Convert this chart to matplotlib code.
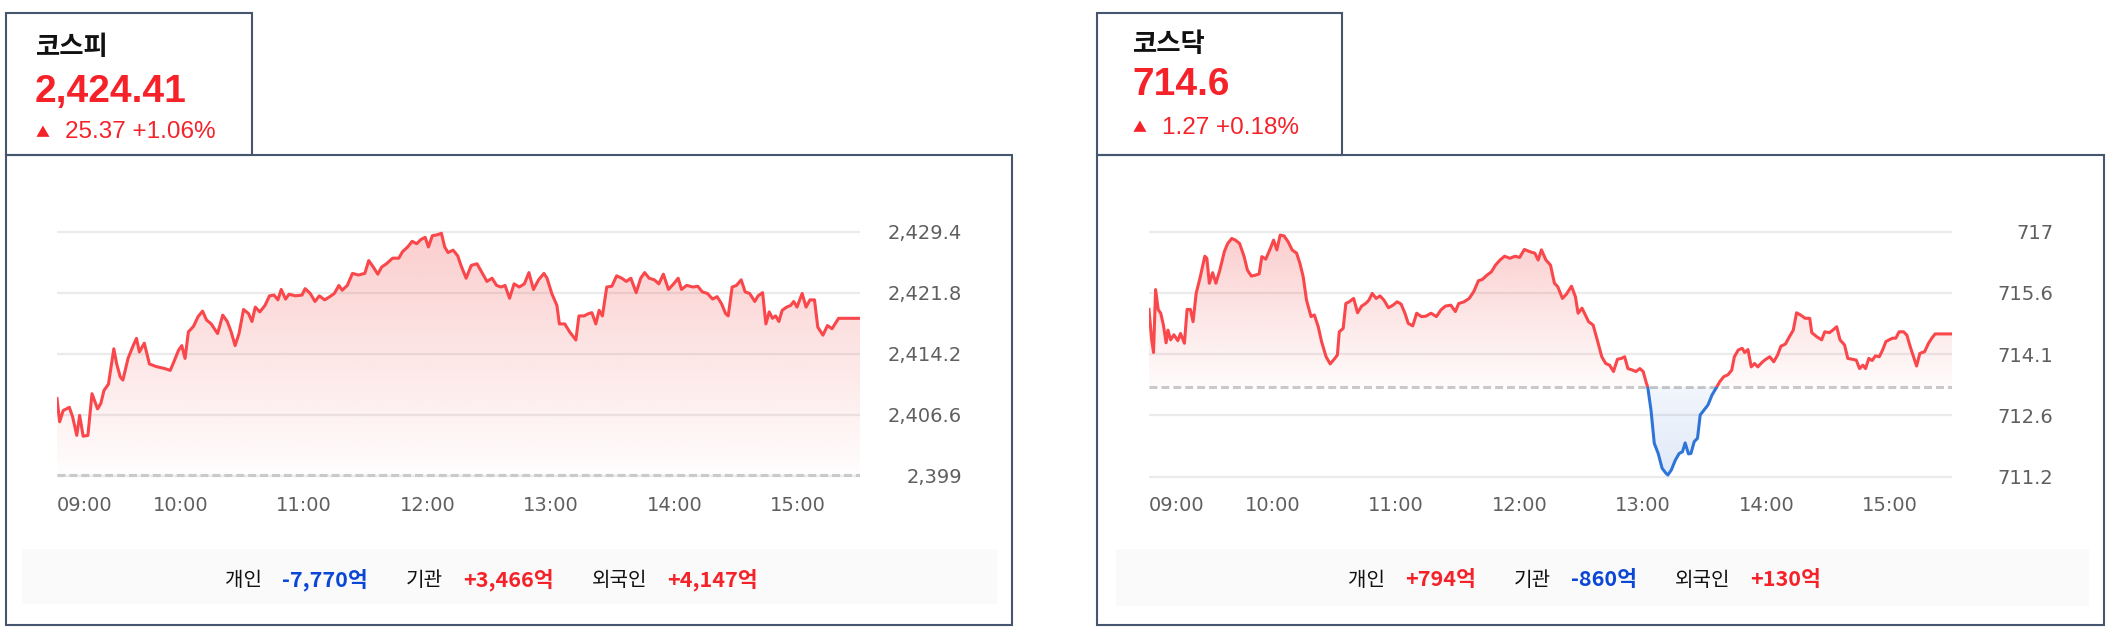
import numpy as np
import matplotlib
matplotlib.use("Agg")
import matplotlib.pyplot as plt
from matplotlib.colors import to_rgb
from matplotlib.patches import Rectangle

W, H = 2119, 638
KR = ["Noto Sans CJK KR", "DejaVu Sans"]
NUM = ["Liberation Sans", "Noto Sans CJK KR"]
RED = "#f5222a"
BLUE = "#0b46d6"
LINE_RED = "#f9474b"
LINE_BLUE = "#2f74d9"
BORDER = "#46566e"

# minutes after 09:00 and index level
kospi_t = [0, 1.3, 3, 6, 7.6, 9.6, 11, 12.7, 15, 17, 19.7, 21.3, 22.8, 25, 27.6, 29, 30.7, 32,
           34.5, 37, 38.6, 40, 42.4, 44.9, 48, 52.8, 55, 56.8, 59, 60.6, 62.2, 63.8, 66.3, 68.5,
           70.7, 72.6, 74.9, 78, 80.5, 82.7, 84.6, 86.5, 88.4, 90.6, 93, 94.7, 96.3, 98.5, 101,
           103.2, 105.4, 107.3, 108.9, 111, 112.7, 115.8, 119, 120.5, 123, 125.3, 127.4, 130,
           132.5, 134.7, 136.9, 138.5, 141, 143.5, 146.4, 149.5, 151.4, 153.6, 155.8, 157.7, 160,
           163, 166, 167.8, 170.3, 172.5, 174.7, 176.6, 178.8, 180.4, 182.3, 184.5, 186.7, 188.3,
           189.9, 192.4, 194.6, 196.2, 198.7, 201.2, 204, 206.2, 208.8, 211.3, 213.5, 215.7,
           217.6, 219.8, 222, 224.5, 227, 229.2, 231.4, 233.9, 236.5, 238, 240.3, 242.8, 244,
           246.6, 249, 252, 253.5, 256, 258.3, 259.8, 261.7, 263.3, 264.9, 267, 269.5, 271.8,
           274.3, 276.5, 278.7, 281.3, 283.5, 285.4, 287.6, 290.1, 292.3, 294.5, 297, 299.5,
           301.7, 303.3, 305.8, 309, 311.2, 313.4, 315.9, 318.4, 320.6, 322.8, 324.7, 326, 327.9,
           330, 332.3, 334.2, 336.4, 338.9, 340.5, 342.7, 344.3, 345.9, 347.5, 349, 350.6, 352.2,
           354.4, 356.3, 357.8, 359.4, 361.9, 363.8, 365.7, 367.9, 369.5, 372, 374.2, 376.4,
           379.6, 390]
kospi_v = [2408.6, 2405.7, 2407.1, 2407.5, 2406.3, 2404.0, 2406.5, 2403.9, 2404.0, 2409.2,
           2407.3, 2408.0, 2409.6, 2410.4, 2414.8, 2412.9, 2411.3, 2410.9, 2413.6, 2415.2,
           2416.1, 2414.4, 2415.5, 2412.9, 2412.6, 2412.3, 2412.1, 2413.2, 2414.6, 2415.2,
           2413.6, 2416.9, 2417.6, 2418.8, 2419.5, 2418.4, 2417.9, 2416.7, 2419.0, 2418.2,
           2416.9, 2415.2, 2416.7, 2419.7, 2419.2, 2418.2, 2420.0, 2419.4, 2420.2, 2421.4,
           2421.5, 2420.9, 2422.2, 2421.0, 2421.6, 2421.4, 2421.5, 2422.3, 2421.7, 2420.7,
           2421.4, 2420.9, 2421.3, 2421.7, 2422.7, 2422.1, 2422.7, 2424.2, 2424.0, 2424.2,
           2425.8, 2425.0, 2424.1, 2425.0, 2425.4, 2426.1, 2426.1, 2426.9, 2427.5, 2428.2,
           2427.9, 2428.4, 2428.7, 2427.5, 2428.9, 2429.0, 2429.2, 2427.5, 2426.8, 2427.1,
           2426.4, 2425.2, 2423.6, 2425.2, 2425.4, 2424.4, 2423.2, 2423.6, 2422.7, 2422.5,
           2422.7, 2421.1, 2422.9, 2422.5, 2422.9, 2424.3, 2422.2, 2423.4, 2424.2, 2423.6,
           2421.7, 2420.2, 2417.9, 2417.9, 2416.9, 2415.9, 2418.9, 2418.9, 2419.2, 2419.3,
           2417.9, 2419.6, 2418.9, 2422.5, 2422.6, 2423.9, 2423.6, 2423.2, 2423.6, 2421.8,
           2423.6, 2424.3, 2423.6, 2423.4, 2422.9, 2424.1, 2422.2, 2422.9, 2423.6, 2422.2,
           2422.7, 2422.5, 2422.6, 2421.9, 2421.7, 2421.0, 2421.3, 2420.4, 2419.2, 2418.9,
           2422.5, 2422.7, 2423.4, 2421.9, 2421.7, 2420.7, 2421.4, 2421.8, 2417.9, 2419.4,
           2418.6, 2418.9, 2418.2, 2419.6, 2420.0, 2420.2, 2420.7, 2420.0, 2421.7, 2420.0,
           2420.9, 2420.9, 2417.5, 2416.5, 2417.7, 2417.3, 2418.6, 2418.6]

kosdaq_t = [0, 1.3, 2.2, 3.2, 4.5, 5.7, 7, 8.3, 9.2, 10.5, 12.1, 14, 15.3, 17.2, 18.5, 20.1,
            21.4, 22.9, 24.9, 27.1, 28.1, 29.3, 30.9, 32.5, 34.4, 36.6, 38.2, 40.2, 42, 44,
            46.2, 47.8, 49.7, 51.6, 53.5, 54.8, 56.7, 59, 60.5, 62.1, 63.7, 65.6, 67.6, 69.5,
            71.7, 73.3, 74.9, 76.5, 78.7, 80.3, 82.2, 83.8, 86, 88, 89.9, 91.5, 92.4, 94.3,
            95.6, 97.2, 99.4, 101.3, 103.3, 105.2, 106.8, 108.4, 110.3, 112.2, 114.1, 116.3,
            118.5, 120.5, 122.4, 124.3, 125.9, 128.1, 130, 132.3, 134.5, 137, 139.6, 141.8, 144,
            146.6, 148.8, 150.4, 153, 155.5, 157.7, 160, 161.9, 164.1, 166.3, 168.3, 170.5,
            172.7, 175.3, 177.8, 180, 182.3, 184.8, 187.4, 189, 190.6, 192.8, 195, 196.9, 198.5,
            200.8, 202.7, 205.2, 207.1, 208.4, 210.3, 212.2, 213.5, 215.7, 217.7, 219.9, 221.8,
            223.7, 225.6, 227.5, 229.4, 231, 232.6, 234.5, 236.5, 238.4, 240, 241.6, 242.2,
            243.8, 245.4, 247.3, 249.2, 251.1, 252, 253.7, 255.6, 257.5, 259.1, 260.4, 262,
            263.2, 264.8, 266.4, 267.7, 269.6, 271.5, 273.4, 275.7, 277.2, 279.2, 281.1, 283,
            284.3, 286.2, 288.1, 289.3, 290.9, 292.5, 294.1, 295.7, 298, 299.6, 301.5, 303.4,
            305.3, 306.9, 309.1, 311, 312.9, 314.5, 316.4, 318.7, 320.9, 321.9, 324.4, 326.7,
            328.2, 330.5, 332.1, 334, 335.6, 337.8, 339.4, 341.6, 343.5, 345.1, 346.7, 348,
            349.6, 351.2, 352.8, 354.7, 356.3, 357.9, 359.5, 361.1, 362.7, 364.3, 366.5, 368.1,
            369.7, 371.3, 372.8, 374.4, 376.7, 378.6, 380.2, 381.8, 390]
kosdaq_v = [715.16, 714.44, 714.14, 715.63, 715.15, 715.07, 714.79, 714.37, 714.67, 714.44,
            714.56, 714.42, 714.59, 714.36, 715.16, 715.16, 714.87, 715.54, 715.93, 716.42,
            716.37, 715.78, 716.03, 715.78, 716.09, 716.53, 716.72, 716.84, 716.80, 716.72,
            716.41, 716.09, 715.95, 715.97, 716.00, 716.41, 716.35, 716.61, 716.80, 716.57,
            716.92, 716.90, 716.76, 716.57, 716.49, 716.25, 715.93, 715.38, 714.99, 715.03,
            714.75, 714.40, 714.04, 713.87, 713.98, 714.08, 714.63, 714.71, 715.30, 715.34,
            715.42, 715.08, 715.24, 715.30, 715.38, 715.54, 715.42, 715.48, 715.38, 715.20,
            715.26, 715.34, 715.29, 715.07, 714.83, 714.77, 715.07, 714.99, 715.00, 715.07,
            714.99, 715.15, 715.24, 715.26, 715.11, 715.30, 715.34, 715.42, 715.58, 715.84,
            715.87, 715.97, 716.05, 716.21, 716.33, 716.42, 716.37, 716.42, 716.39, 716.58,
            716.53, 716.49, 716.33, 716.57, 716.33, 716.21, 715.78, 715.70, 715.42, 715.52,
            715.71, 715.46, 715.07, 715.19, 715.00, 714.87, 714.79, 714.44, 714.04, 713.88,
            713.84, 713.69, 713.98, 714.00, 714.04, 713.76, 713.73, 713.69, 713.76, 713.69,
            713.41, 713.33, 712.78, 711.99, 711.75, 711.40, 711.28, 711.24, 711.36, 711.59,
            711.75, 711.79, 712.00, 711.74, 711.75, 712.03, 712.11, 712.66, 712.78, 712.90,
            713.13, 713.32, 713.45, 713.57, 713.61, 713.72, 714.04, 714.20, 714.24, 714.14,
            714.21, 713.80, 713.88, 713.80, 713.92, 713.98, 714.04, 713.92, 714.08, 714.29,
            714.34, 714.51, 714.67, 715.08, 715.03, 714.95, 714.95, 714.61, 714.51, 714.44,
            714.63, 714.61, 714.67, 714.75, 714.44, 714.32, 714.00, 713.98, 713.96, 713.76,
            713.84, 713.76, 714.00, 713.95, 714.06, 714.04, 714.20, 714.40, 714.44, 714.48,
            714.48, 714.63, 714.63, 714.55, 714.28, 714.04, 713.82, 714.12, 714.16, 714.36,
            714.48, 714.58, 714.58]

kospi_ticks = [2399, 2406.6, 2414.2, 2421.8, 2429.4]
kospi_tick_labels = ["2,399", "2,406.6", "2,414.2", "2,421.8", "2,429.4"]
kosdaq_ticks = [711.2, 712.65, 714.1, 715.55, 717]
kosdaq_tick_labels = ["711.2", "712.6", "714.1", "715.6", "717"]
time_ticks = [0, 60, 120, 180, 240, 300, 360]
time_labels = ["09:00", "10:00", "11:00", "12:00", "13:00", "14:00", "15:00"]

kospi_prev = 2399.04
kosdaq_prev = 713.33

names = ["코스피", "코스닥"]
prices = ["2,424.41", "714.6"]
changes = ["25.37 +1.06%", "1.27 +0.18%"]
investors = ["개인", "기관", "외국인"]
kospi_flows = ["-7,770억", "+3,466억", "+4,147억"]
kosdaq_flows = ["+794억", "-860억", "+130억"]


fig = plt.figure(figsize=(W / 100, H / 100), dpi=100)
bg = fig.add_axes([0, 0, 1, 1])
bg.set_xlim(0, W)
bg.set_ylim(H, 0)
bg.axis("off")


def chart_axes(x0, x1, y_top, y_bot, vmin, vmax, pad_frac=0.05):
    pad = (vmax - vmin) * pad_frac
    scale = (y_bot - y_top) / (vmax - vmin)
    top = y_top - pad * scale
    bot = y_bot + pad * scale
    ax = fig.add_axes([x0 / W, 1 - bot / H, (x1 - x0) / W, (bot - top) / H])
    ax.set_facecolor("none")
    for s in ax.spines.values():
        s.set_visible(False)
    return ax, bot, pad


def gradient_fill(ax, t, lo, hi, color, a_top, a_bot, v_top, v_bot):
    poly = ax.fill_between(t, lo, hi, facecolor="none", edgecolor="none")
    path = poly.get_paths()[0]
    rgba = np.zeros((256, 1, 4))
    rgba[..., :3] = to_rgb(color)
    rgba[..., 3] = np.linspace(a_top, a_bot, 256)[:, None]
    im = ax.imshow(rgba, extent=[0, 390, v_bot, v_top], origin="upper",
                   aspect="auto", zorder=1, interpolation="bilinear")
    im.set_clip_path(path, transform=ax.transData)


def decorate(ax, bot_px, x1, label_right, ticks, tick_labels, prev, pad):
    for v in ticks:
        ax.axhline(v, color="#ebebeb", lw=1.6, zorder=0)
    ax.axhline(prev, color="#cacaca", lw=2.2, ls=(0, (2.6, 1.3)), zorder=0.5)
    ax.set_yticks(ticks, tick_labels)
    ax.yaxis.tick_right()
    ax.tick_params(axis="y", length=0, pad=(label_right - x1) * 0.72,
                   labelsize=14, labelcolor="#5f5f5f")
    for lbl in ax.get_yticklabels():
        lbl.set_ha("right")
    ax.set_xticks(time_ticks, time_labels)
    ax.tick_params(axis="x", length=0, pad=(496 - bot_px) * 0.72,
                   labelsize=14, labelcolor="#5f5f5f")
    ax.get_xticklabels()[0].set_ha("left")
    ax.set_xlim(0, 390)
    ax.set_ylim(ticks[0] - pad, ticks[-1] + pad)


# KOSPI chart
ax1, b1, p1 = chart_axes(57, 860, 231.7, 475.5, kospi_ticks[0], kospi_ticks[-1])
t1 = np.array(kospi_t)
v1 = np.array(kospi_v)
gradient_fill(ax1, t1, v1, kospi_prev, "#f04646", 0.27, 0.01, kospi_ticks[-1], kospi_prev)
ax1.plot(t1, v1, color=LINE_RED, lw=2.2, zorder=3, solid_joinstyle="round")
decorate(ax1, b1, 860, 962, kospi_ticks, kospi_tick_labels, kospi_prev, p1)

# KOSDAQ chart
ax2, b2, p2 = chart_axes(1149, 1952, 231.7, 476.7, kosdaq_ticks[0], kosdaq_ticks[-1])
t2 = np.array(kosdaq_t)
v2 = np.array(kosdaq_v)
gradient_fill(ax2, t2, np.maximum(v2, kosdaq_prev), kosdaq_prev, "#f04646", 0.27, 0.02,
              kosdaq_ticks[-1], kosdaq_prev)
gradient_fill(ax2, t2, np.minimum(v2, kosdaq_prev), kosdaq_prev, "#3a78d8", 0.07, 0.16,
              kosdaq_prev, kosdaq_ticks[0])
up = ax2.plot(t2, v2, color=LINE_RED, lw=2.2, zorder=3, solid_joinstyle="round")[0]
up.set_clip_path(Rectangle((0, kosdaq_prev), 390, 20, transform=ax2.transData))
dn = ax2.plot(t2, v2, color=LINE_BLUE, lw=2.2, zorder=3, solid_joinstyle="round")[0]
dn.set_clip_path(Rectangle((0, kosdaq_prev - 20), 390, 20, transform=ax2.transData))
decorate(ax2, b2, 1952, 2053, kosdaq_ticks, kosdaq_tick_labels, kosdaq_prev, p2)

# panel frames
for hx0, hx1, mx1 in [(6, 252, 1012), (1097, 1342, 2104)]:
    bg.add_patch(Rectangle((hx0, 13), hx1 - hx0, 142, fill=False, ec=BORDER, lw=1.5))
    bg.add_patch(Rectangle((hx0, 155), mx1 - hx0, 470, fill=False, ec=BORDER, lw=1.5))

# header texts
heads = [(36, 55, 101.5, 138), (1133, 52, 95, 133.5)]
for (x, yn, yp, yc), name, price, chg in zip(heads, names, prices, changes):
    bg.text(x, yn, name, fontsize=19, fontweight="bold", color="#111111", family=KR, va="baseline")
    bg.text(x - 1, yp, price, fontsize=28, fontweight="bold", color=RED, family=NUM, va="baseline")
    bg.text(x, yc - 1, "▲", fontsize=10, color=RED, family=KR, va="baseline")
    bg.text(x + 29, yc, chg, fontsize=17.5, color=RED, family=NUM, va="baseline")

# investor flows footer
renderer = fig.canvas.get_renderer()
for (gx0, gx1, gy0, gy1), flows in zip([(22, 997, 549, 604), (1116, 2089, 549, 606)],
                                       [kospi_flows, kosdaq_flows]):
    bg.add_patch(Rectangle((gx0, gy0), gx1 - gx0, gy1 - gy0, fc="#fafafa", ec="none"))
    texts = []
    for lab, val in zip(investors, flows):
        texts.append(bg.text(0, 586, lab, fontsize=14.5, color="#111111", family=KR, va="baseline"))
        col = BLUE if val.startswith("-") else RED
        texts.append(bg.text(0, 586, val, fontsize=15.5, fontweight="bold", color=col,
                             family=KR, va="baseline"))
    widths = [t.get_window_extent(renderer).width for t in texts]
    gaps = [20, 38, 20, 38, 20, 0]
    total = sum(widths) + sum(gaps)
    x = (gx0 + gx1) / 2 - 18 - total / 2
    for t, w, g in zip(texts, widths, gaps):
        t.set_x(x)
        x += w + g

fig.savefig("out.png", dpi=100)
